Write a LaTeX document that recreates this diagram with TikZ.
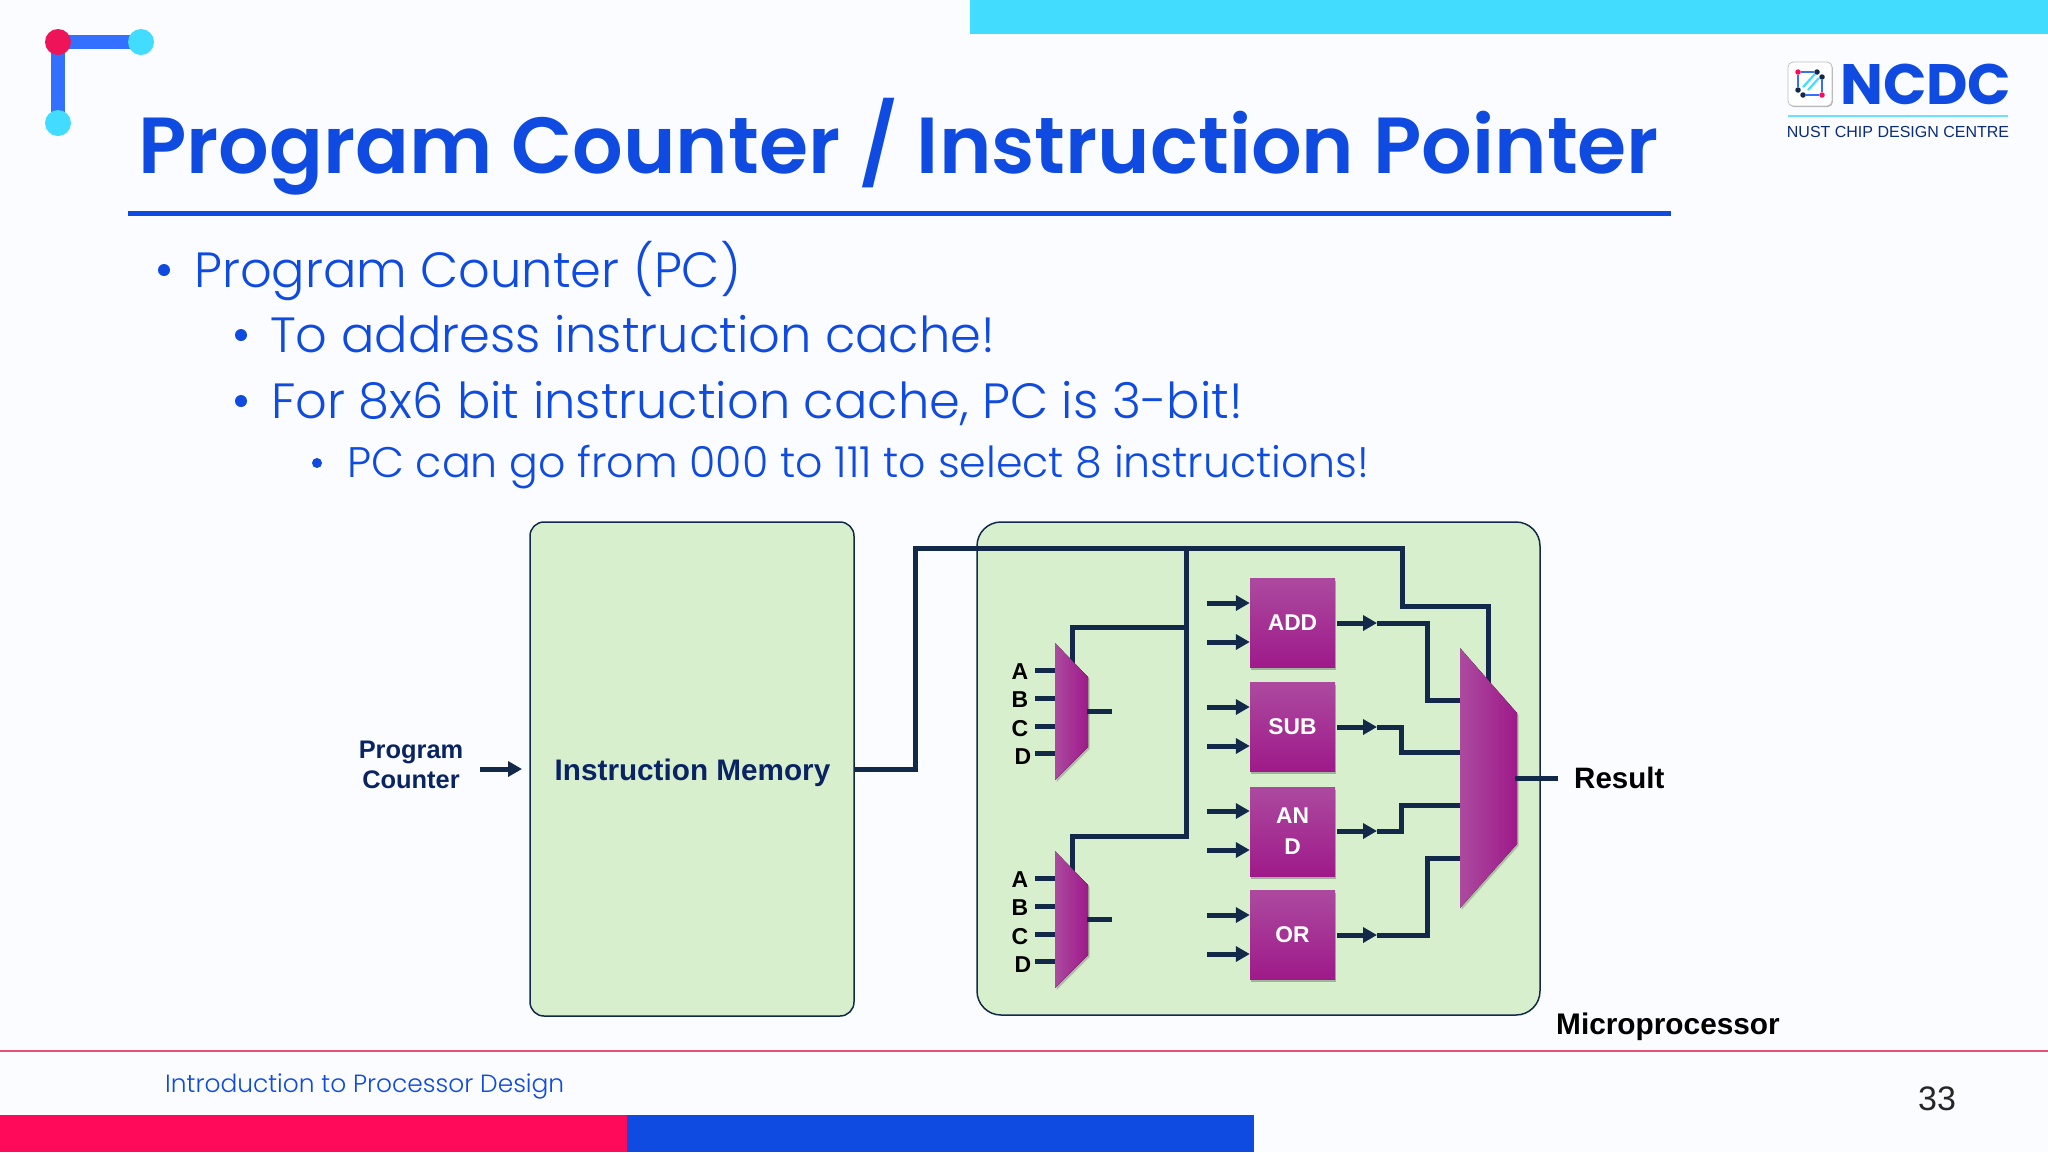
\documentclass[tikz,border=0pt]{standalone}
\usepackage{fontspec}
\usetikzlibrary{shadows,arrows.meta}
\setmainfont{Liberation Sans}
\newfontfamily\popbold{Poppins}[UprightFont=*-SemiBold]
\newfontfamily\popheavy{Poppins}[UprightFont=*-Bold]
\newfontfamily\poplight{Poppins}[UprightFont=*-Light]
\definecolor{pagebg}{HTML}{FAFCFF}
\definecolor{brandblue}{HTML}{0F4BE0}
\definecolor{brandcyan}{HTML}{41DCFF}
\definecolor{brandred}{HTML}{FF0A5A}
\definecolor{cornerred}{HTML}{EE1459}
\definecolor{cornerblue}{HTML}{3370FF}
\definecolor{rulered}{HTML}{E8507A}
\definecolor{wirecol}{HTML}{12294A}
\definecolor{navytext}{HTML}{0A2463}
\definecolor{panelgreen}{HTML}{D8EFCE}
\definecolor{purpletop}{HTML}{AC4A9F}
\definecolor{purplebot}{HTML}{9E1A8A}
\tikzset{
  x=1pt,y=-1pt,
  wire/.style={draw=wirecol,line width=5pt,line join=miter},
  arrowwire/.style={wire,-{Triangle[length=14pt,width=15pt]}},
  panel/.style={draw=wirecol,line width=1.5pt,fill=panelgreen,inner sep=0pt},
  alubox/.style={minimum width=85pt,minimum height=89pt,inner sep=0pt,top color=purpletop,bottom color=purplebot,text=white,
     font=\fontsize{22.8}{31}\selectfont\bfseries,align=center,drop shadow={shadow xshift=1pt,shadow yshift=-2.5pt,opacity=.25,fill=black}},
  muxshape/.style={left color=purpletop,right color=purplebot,drop shadow={shadow xshift=1.5pt,shadow yshift=-2pt,opacity=.2,fill=black}},
  portlabel/.style={font=\fontsize{23}{24}\selectfont\bfseries,text=black,inner sep=0pt},
  blacklabel/.style={font=\fontsize{29.5}{32}\selectfont\bfseries,text=black,inner sep=0pt,anchor=west},
  navylabel/.style={font=\fontsize{25.4}{30.5}\selectfont\bfseries,text=navytext,inner sep=0pt,align=center},
  bodybig/.style={anchor=base west,inner sep=0pt,text=brandblue,font=\fontsize{49.5}{56}\selectfont\poplight},
  bodysmall/.style={anchor=base west,inner sep=0pt,text=brandblue,font=\fontsize{42.7}{50}\selectfont\poplight},
  bulletdot/.style={circle,fill=brandblue,inner sep=0pt,minimum size=#1},
  dotnode/.style={circle,inner sep=0pt,minimum size=26pt},
  icondot/.style={circle,inner sep=0pt,minimum size=5.5pt},
}
\begin{document}
\begin{tikzpicture}
\useasboundingbox (0,0) rectangle (2048,1152);
\fill[pagebg] (0,0) rectangle (2048,1152);
% top bar and footer
\fill[brandcyan] (970,0) rectangle (2048,34);
\fill[brandred] (0,1115) rectangle (627,1152);
\fill[brandblue] (627,1115) rectangle (1254,1152);
\draw[rulered,line width=1.4pt] (0,1051) -- (2048,1051);
% corner mark
\coordinate (cornerA) at (58,42);
\coordinate (cornerB) at (141,42);
\coordinate (cornerC) at (58,123);
\draw[line width=14pt,color=cornerblue] (cornerB) -- (cornerA) -- (cornerC);
\node[dotnode,fill=cornerred] (dotA) at (cornerA) {};
\node[dotnode,fill=brandcyan] (dotB) at (cornerB) {};
\node[dotnode,fill=brandcyan] (dotC) at (cornerC) {};
% title
\node[anchor=base west,inner sep=0pt,text=brandblue,font=\fontsize{79.5}{90}\selectfont\popbold] (title) at (138,173) {Program Counter / Instruction Pointer};
\draw[brandblue,line width=5pt] (128,213) -- (1671,213);
% body
\node[bulletdot=12pt] (b1) at (164,270) {};
\node[bodybig] (t1) at (194,287) {Program Counter (PC)};
\node[bulletdot=12pt] (b2) at (241,335) {};
\node[bodybig] (t2) at (270,352) {To address instruction cache!};
\node[bulletdot=12pt] (b3) at (241,401) {};
\node[bodybig] (t3) at (271,418) {For 8x6 bit instruction cache, PC is 3-bit!};
\node[bulletdot=10pt] (b4) at (317,463) {};
\node[bodysmall] (t4) at (347,477) {PC can go from 000 to 111 to select 8 instructions!};
% logo
\draw[gray!50,fill=white,rounded corners=5pt,line width=.8pt,drop shadow={shadow xshift=.8pt,shadow yshift=-1pt,opacity=.3,fill=black}] (1788,62) rectangle (1832,106);
\node[icondot,fill=brandred] (i1) at (1798,72) {};
\node[icondot,fill=wirecol] (i2) at (1817,72) {};
\node[icondot,fill=wirecol] (i3) at (1822,77) {};
\node[icondot,fill=brandred] (i4) at (1822,95) {};
\node[icondot,fill=wirecol] (i5) at (1803,95) {};
\node[icondot,fill=wirecol] (i6) at (1798,90) {};
\draw[cornerblue,line width=1.8pt] (i1) -- (i2) (i3) -- (i4) (i4) -- (i5) (i6) -- (i1);
\draw[brandcyan,line width=2.2pt] (1803,87) -- (1815,74) (1808,90) -- (1819,78);
\node[anchor=west,inner sep=0pt,text=brandblue,font=\fontsize{57}{60}\selectfont\popheavy] (ncdc) at (1840,84) {NCDC};
\draw[brandcyan!80,line width=1.6pt] (1788,116) -- (2008,116);
\node[anchor=center,inner sep=0pt,text=navytext!80!brandblue,font=\fontsize{16}{18}\selectfont] (nust) at (1898,132) {NUST CHIP DESIGN CENTRE};
% footer text
\node[anchor=west,inner sep=0pt,text=brandblue,font=\fontsize{24.9}{30}\selectfont\poplight] (foot) at (165,1086) {Introduction to Processor Design};
\node[inner sep=0pt,font=\fontsize{34}{36}\selectfont,text=black!85] (page) at (1937,1099) {33};
% panels
\node[panel,minimum width=324pt,minimum height=494pt,rounded corners=14pt] (imem) at (692,769) {};
\node[inner sep=0pt,anchor=base,font=\fontsize{29.7}{32}\selectfont\bfseries,text=navytext] (imemlabel) at (692.5,780) {Instruction Memory};
\node[panel,minimum width=563pt,minimum height=493pt,rounded corners=24pt] (cpu) at (1258.5,768.5) {};
% coordinates
\coordinate (wA) at (915,769);
\coordinate (wB) at (915,548);
\coordinate (wC) at (1402,548);
\coordinate (wD) at (1402,606);
\coordinate (wE) at (1488,606);
\coordinate (wF) at (1488,690);
\coordinate (jT) at (1186,548);
\coordinate (j1) at (1186,627);
\coordinate (j2) at (1186,836);
\coordinate (m1top) at (1072,665);
\coordinate (m2top) at (1072,873);
% ALUs
\node[alubox] (add) at (1292.5,622.5) {\raisebox{-.6pt}{ADD}};
\node[alubox] (sub) at (1292.5,726.5) {\raisebox{-.6pt}{SUB}};
\node[alubox] (and) at (1292.5,831.5) {AN\\D};
\node[alubox] (or)  at (1292.5,934.5) {\raisebox{-.6pt}{OR}};
% wires
\draw[wire] (imem.east) -- (wA) -- (wB) -- (wC) -- (wD) -- (wE) -- (wF);
\draw[wire] (jT) -- (j2) -| (m2top);
\draw[wire] (j1) -| (m1top);
\foreach \n/\y in {a1/603,a2/642,b1/707,b2/746,c1/811,c2/850,d1/915,d2/954}{
  \coordinate (in\n) at (1207,\y);
}
\draw[arrowwire] (ina1) -- (ina1 -| add.west);
\draw[arrowwire] (ina2) -- (ina2 -| add.west);
\draw[arrowwire] (inb1) -- (inb1 -| sub.west);
\draw[arrowwire] (inb2) -- (inb2 -| sub.west);
\draw[arrowwire] (inc1) -- (inc1 -| and.west);
\draw[arrowwire] (inc2) -- (inc2 -| and.west);
\draw[arrowwire] (ind1) -- (ind1 -| or.west);
\draw[arrowwire] (ind2) -- (ind2 -| or.west);
% outputs
\foreach \n/\yy in {add/623,sub/727,and/831,or/935}{
  \coordinate (o\n) at (1337,\yy);
  \coordinate (h\n) at (1377,\yy);
  \draw[arrowwire] (o\n) -- (h\n);
}
\coordinate (pA) at (1460,700);
\coordinate (pS) at (1460,752);
\coordinate (pN) at (1460,805);
\coordinate (pO) at (1460,858);
\draw[wire] (hadd) -- (1427,623) -- (1427,700) -- (pA);
\draw[wire] (hsub) -- (1401,727) -- (1401,752) -- (pS);
\draw[wire] (hand) -- (1401,831) -- (1401,805) -- (pN);
\draw[wire] (hor) -- (1427,935) -- (1427,858) -- (pO);
% big mux
\fill[muxshape] (1460,648) -- (1517,713) -- (1517,844) -- (1460,908) -- cycle;
\coordinate (bigout) at (1515,778);
\coordinate (resend) at (1558,778);
\draw[wire] (bigout) -- (resend);
\node[blacklabel] (result) at (1574,778) {Result};
% small muxes
\foreach \m/\dy in {one/0,two/208}{
  \begin{scope}[yshift=-\dy pt]
  \fill[muxshape] (1055,643) -- (1088,677) -- (1088,747) -- (1055,780) -- cycle;
  \foreach \l/\ly/\lx/\off in {A/670/1020/2,B/698/1020/2,C/726/1020/3,D/753/1023/4}{
    \node[portlabel] (\m\l) at (\lx,\ly+\off) {\l};
    \coordinate (\m\l p) at (1035,\ly);
    \draw[wire] (\m\l p) -- (1055,\ly);
  }
  \coordinate (\m out) at (1087,711);
  \coordinate (\m end) at (1112,711);
  \draw[wire] (\m out) -- (\m end);
  \end{scope}
}
% left inputs
\node[navylabel] (pc) at (411,765) {Program\\Counter};
\coordinate (pcs) at (480,769);
\coordinate (pce) at (522,769);
\draw[arrowwire] (pcs) -- (pce);
\node[blacklabel,font=\fontsize{29.8}{33}\selectfont\bfseries] (micro) at (1556,1027) {Microprocessor};
\end{tikzpicture}
\end{document}
